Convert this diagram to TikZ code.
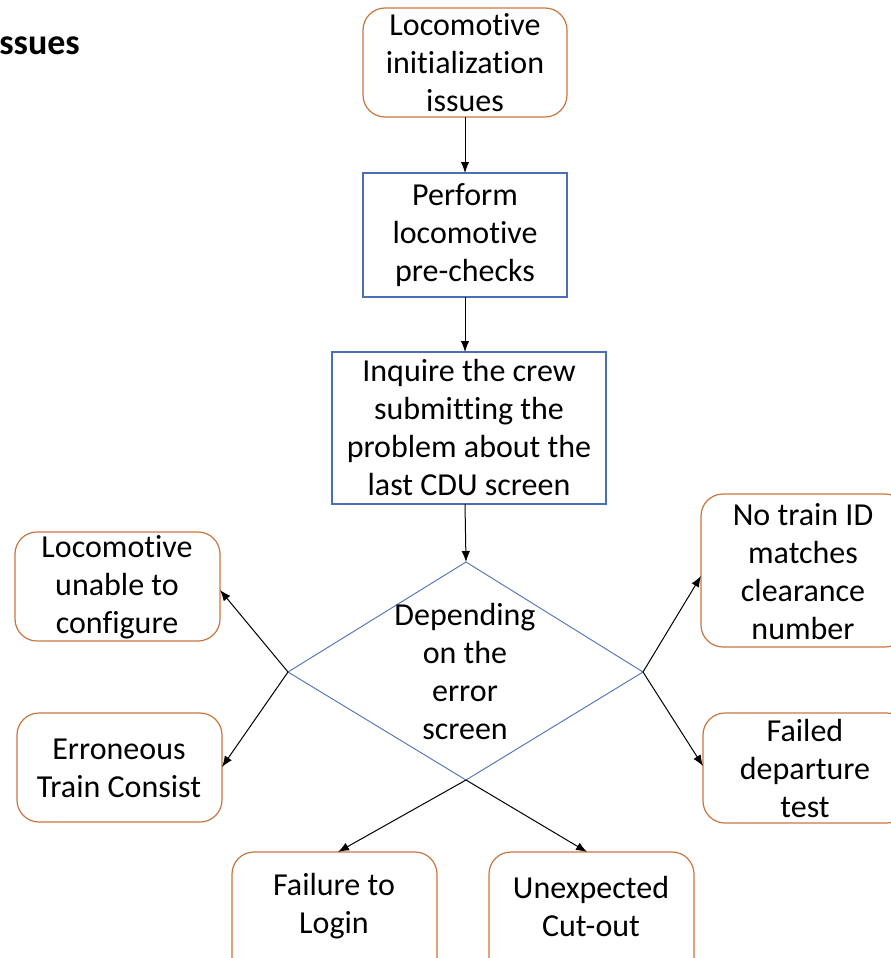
\documentclass[tikz,border=0pt]{standalone}
\usepackage{fontspec}
\setmainfont[Ligatures={NoCommon}]{Carlito}
\usetikzlibrary{arrows.meta}
\definecolor{boxorange}{RGB}{200,118,62}
\definecolor{boxblue}{RGB}{74,111,181}
\begin{document}
\begin{tikzpicture}[x=1pt,y=-1pt,
  txt/.style={font=\fontsize{32}{38}\selectfont, align=center, inner sep=0pt},
  outcome/.style={draw=boxorange, line width=1.2pt, rounded corners=22pt},
  stepbox/.style={draw=boxblue, line width=1.2pt},
  flow/.style={draw=black, line width=1pt, -{Latex[length=11pt,width=8.5pt]}}]
\useasboundingbox (0,0) rectangle (891,958);
\clip (0,0) rectangle (891,958);

% heading fragment
\node[anchor=base east, inner sep=0pt, font=\fontsize{36}{40}\selectfont\bfseries] (head) at (80,55) {ssues};

% boxes
\draw[outcome] (363,8) rectangle (567,117);
\node[txt] (start) at (465,62.5) {Locomotive\\initialization\\issues};
\coordinate (startB) at (465,117);

\draw[stepbox] (363,173) rectangle (567,297);
\node[txt] (pre) at (465,235) {Perform\\locomotive\\pre-checks};
\coordinate (preT) at (465,173);
\coordinate (preB) at (465,297);

\draw[stepbox] (332,352) rectangle (606,504);
\node[txt] (ask) at (469,428) {Inquire the crew\\submitting the\\problem about the\\last CDU screen};
\coordinate (askT) at (465,352);
\coordinate (askB) at (465,504);

% decision diamond
\coordinate (dT) at (466,562);
\coordinate (dL) at (288,672);
\coordinate (dR) at (643,672);
\coordinate (dB) at (466,780);
\draw[boxblue, line width=0.9pt] (dT) -- (dR) -- (dB) -- (dL) -- cycle;
\node[txt] (dec) at (465,671) {Depending\\on the\\error\\screen};

% outcome boxes
\draw[outcome] (15,532) rectangle (220,641);
\node[txt] (cfg) at (117,587) {Locomotive\\unable to\\configure};
\coordinate (cfgE) at (220,590);

\draw[outcome] (17,713) rectangle (222,822);
\node[txt] (cons) at (119,768) {Erroneous\\Train Consist};
\coordinate (consE) at (222,767);

\draw[outcome] (701,494) rectangle (907,647);
\node[txt] (noid) at (803,572) {No train ID\\matches\\clearance\\number};
\coordinate (noidW) at (701,576);

\draw[outcome] (703,713) rectangle (909,823);
\node[txt] (dep) at (805,768) {Failed\\departure\\test};
\coordinate (depW) at (703,766);

\draw[outcome] (232,852) rectangle (437,990);
\node[txt] (login) at (334,906) {Failure to\\Login};
\coordinate (loginT) at (338,852);

\draw[outcome] (489,852) rectangle (694,990);
\node[txt] (cut) at (591,906) {Unexpected\\Cut-out};
\coordinate (cutT) at (587,852);

% connectors
\draw[flow] (startB) -- (preT);
\draw[flow] (preB) -- (askT);
\draw[flow] (askB) -- (dT);
\draw[flow] (dL) -- (cfgE);
\draw[flow] (dL) -- (consE);
\draw[flow] (dR) -- (noidW);
\draw[flow] (dR) -- (depW);
\draw[flow] (dB) -- (loginT);
\draw[flow] (dB) -- (cutT);
\end{tikzpicture}
\end{document}
